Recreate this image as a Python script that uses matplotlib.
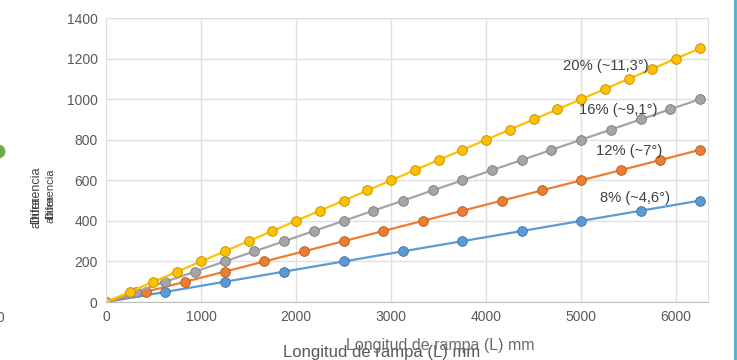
import matplotlib.pyplot as plt
from matplotlib.lines import Line2D

plt.rcParams['font.family'] = ['Liberation Sans', 'DejaVu Sans']

# longitudes (mm) y diferencias de altura (mm) para cada pendiente
x_8 = [0, 625, 1250, 1875, 2500, 3125, 3750, 4375, 5000, 5625, 6250]
y_8 = [0, 50, 100, 150, 200, 250, 300, 350, 400, 450, 500]

x_12 = [0, 417, 833, 1250, 1667, 2083, 2500, 2917, 3333, 3750, 4167,
        4583, 5000, 5417, 5833, 6250]
y_12 = [0, 50, 100, 150, 200, 250, 300, 350, 400, 450, 500,
        550, 600, 650, 700, 750]

x_16 = [0, 312, 625, 937, 1250, 1562, 1875, 2187, 2500, 2812, 3125,
        3437, 3750, 4062, 4375, 4687, 5000, 5312, 5625, 5937, 6250]
y_16 = [0, 50, 100, 150, 200, 250, 300, 350, 400, 450, 500,
        550, 600, 650, 700, 750, 800, 850, 900, 950, 1000]

x_20 = [0, 250, 500, 750, 1000, 1250, 1500, 1750, 2000, 2250, 2500,
        2750, 3000, 3250, 3500, 3750, 4000, 4250, 4500, 4750, 5000,
        5250, 5500, 5750, 6000, 6250]
y_20 = [0, 50, 100, 150, 200, 250, 300, 350, 400, 450, 500,
        550, 600, 650, 700, 750, 800, 850, 900, 950, 1000,
        1050, 1100, 1150, 1200, 1250]

labels = ['8% (~4,6°)', '12% (~7°)', '16% (~9,1°)', '20% (~11,3°)']
label_x = [5570, 5505, 5390, 5263]
label_y = [512, 744, 946, 1163]

series = [
    (x_8, y_8, '#5B9BD5', '#41719C'),
    (x_12, y_12, '#ED7D31', '#AE5A21'),
    (x_16, y_16, '#A5A5A5', '#787878'),
    (x_20, y_20, '#FFC000', '#BC8C00'),
]

fig = plt.figure(figsize=(7.37, 3.6), dpi=100)
ax = fig.add_axes([0.1438, 0.161, 0.8169, 0.789])

for (xs, ys, col, edge), lab, tx, ty in zip(series, labels, label_x, label_y):
    ax.plot(xs, ys, color=col, linewidth=1.6, marker='o', markersize=7,
            markerfacecolor=col, markeredgecolor=edge, markeredgewidth=0.6)
    ax.text(tx, ty, lab, fontsize=10.6, color='#404040', ha='center', va='center')

ax.set_xlim(0, 6335)
ax.set_ylim(0, 1400)
ax.set_xticks(range(0, 7000, 1000))
ax.set_yticks(range(0, 1600, 200))
ax.tick_params(length=0, labelsize=10, labelcolor='#595959', pad=6)
ax.grid(True, color='#E0E0E0', linewidth=1)
ax.set_axisbelow(True)
for s in ax.spines.values():
    s.set_color('#E0E0E0')
ax.spines['bottom'].set_color('#BFBFBF')

# titulos de eje superpuestos
fig.text(0.518, 0.022, 'Longitud de rampa (L) mm', fontsize=12, color='#595959',
         ha='center', va='center')
fig.text(0.598, 0.040, 'Longitud de rampa (L) mm', fontsize=11.5, color='#6a6a6a',
         ha='center', va='center')
fig.text(0.049, 0.458, 'Diferencia', fontsize=9, color='#404040',
         rotation=90, ha='center', va='center')
fig.text(0.049, 0.41, 'altura', fontsize=9, color='#404040',
         rotation=90, ha='center', va='center')
fig.text(0.068, 0.462, 'Diferencia', fontsize=8, color='#404040',
         rotation=90, ha='center', va='center')
fig.text(0.068, 0.42, 'altura', fontsize=8, color='#404040',
         rotation=90, ha='center', va='center')

# restos del borde izquierdo y derecho
fig.lines.append(Line2D([-0.003], [1 - 151 / 360], transform=fig.transFigure,
                        marker='o', markersize=9, color='#70AD47', linestyle='none'))
fig.text(0.0, 0.118, '0', fontsize=10, color='#595959', ha='center', va='center')
fig.lines.append(Line2D([0.997, 0.997], [0, 1], transform=fig.transFigure,
                        color='#4BACC6', linewidth=2))

fig.savefig('out.png', dpi=100)
